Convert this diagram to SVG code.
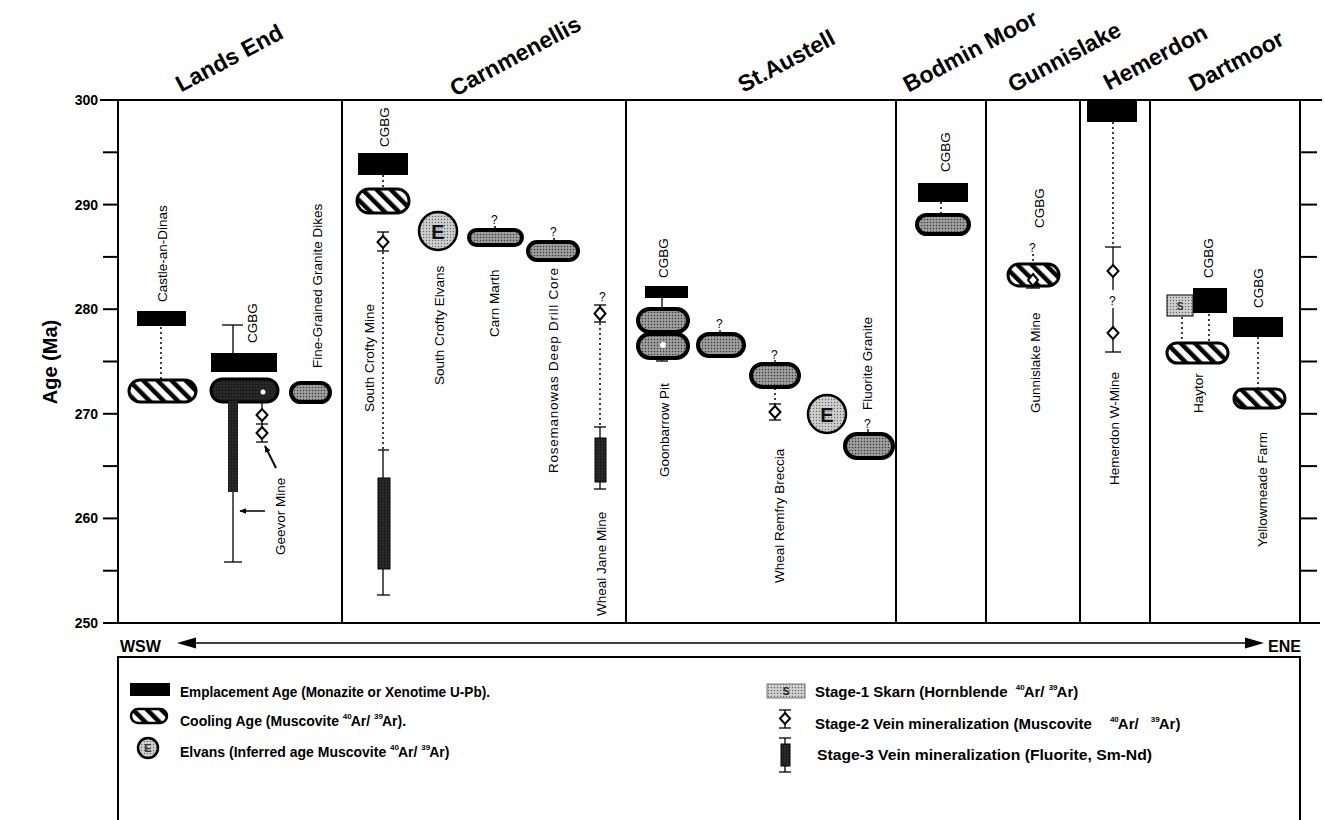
<svg xmlns="http://www.w3.org/2000/svg" width="1324" height="820" viewBox="0 0 1324 820">
<defs>
<style>
text{font-family:"Liberation Sans",Arial,Helvetica,sans-serif;fill:#000}
.ttl{font-size:23px;font-weight:bold}
.lab{font-size:13.5px}
.q{font-size:12px}
.ax{font-size:14px;font-weight:bold}
.lg{font-size:14px;font-weight:bold}
.lg2{font-size:15px;font-weight:bold}
.sup{font-size:8px}
.ln{stroke:#000;stroke-width:2;fill:none}
.thin{stroke:#000;stroke-width:1.3;fill:none}
.dot{stroke:#000;stroke-width:1.5;stroke-dasharray:2 3;fill:none}
.emp{fill:#000}
.hp{fill:url(#hatch);stroke:#000;stroke-width:3}
.dp{fill:url(#stipM);stroke:#000;stroke-width:4}
.kp{fill:url(#stipD);stroke:#000;stroke-width:3}
.ep{fill:url(#stipL);stroke:#000;stroke-width:2.5}
.dia{fill:#fff;stroke:#000;stroke-width:2}
.bar{fill:url(#stipD);stroke:#000;stroke-width:1}
</style>
<pattern id="hatch" patternUnits="userSpaceOnUse" width="10" height="10" patternTransform="rotate(-45)">
<rect width="10" height="10" fill="#fff"/><rect width="4.5" height="10" fill="#000"/>
</pattern>
<pattern id="stipM" patternUnits="userSpaceOnUse" width="3" height="3">
<rect width="3" height="3" fill="#8e8e8e"/><rect width="1" height="1" fill="#3a3a3a"/><rect x="1.5" y="1.5" width="1" height="1" fill="#d0d0d0"/>
</pattern>
<pattern id="stipD" patternUnits="userSpaceOnUse" width="3" height="3">
<rect width="3" height="3" fill="#1e1e1e"/><rect x="1.5" y="1.5" width="1" height="1" fill="#555"/>
</pattern>
<pattern id="stipL" patternUnits="userSpaceOnUse" width="3" height="3">
<rect width="3" height="3" fill="#c4c4c4"/><rect width="1" height="1" fill="#666"/><rect x="1.5" y="1.5" width="1" height="1" fill="#eee"/>
</pattern>
<marker id="ah" viewBox="0 0 10 10" refX="9" refY="5" markerWidth="7" markerHeight="7" orient="auto" markerUnits="userSpaceOnUse">
<path d="M0,1 L10,5 L0,9 Z" fill="#000"/>
</marker>
</defs>
<rect width="1324" height="820" fill="#fff"/>

<g id="axes">
<line class="ln" x1="100" y1="100" x2="1322" y2="100"/>
<line class="ln" x1="103" y1="623" x2="1320" y2="623"/>
<line class="ln" x1="118" y1="100" x2="118" y2="623"/>
<line class="ln" x1="1300" y1="100" x2="1300" y2="623"/>
<g class="ln">
<line x1="103" y1="152.3" x2="118" y2="152.3"/><line x1="103" y1="204.6" x2="118" y2="204.6"/><line x1="103" y1="256.9" x2="118" y2="256.9"/><line x1="103" y1="309.2" x2="118" y2="309.2"/><line x1="103" y1="361.5" x2="118" y2="361.5"/><line x1="103" y1="413.8" x2="118" y2="413.8"/><line x1="103" y1="466.1" x2="118" y2="466.1"/><line x1="103" y1="518.4" x2="118" y2="518.4"/><line x1="103" y1="570.7" x2="118" y2="570.7"/>
<line x1="1300" y1="152.3" x2="1317" y2="152.3"/><line x1="1300" y1="204.6" x2="1317" y2="204.6"/><line x1="1300" y1="256.9" x2="1317" y2="256.9"/><line x1="1300" y1="309.2" x2="1317" y2="309.2"/><line x1="1300" y1="361.5" x2="1317" y2="361.5"/><line x1="1300" y1="413.8" x2="1317" y2="413.8"/><line x1="1300" y1="466.1" x2="1317" y2="466.1"/><line x1="1300" y1="518.4" x2="1317" y2="518.4"/><line x1="1300" y1="570.7" x2="1317" y2="570.7"/>
</g>
<g class="ln">
<line x1="342" y1="100" x2="342" y2="623"/><line x1="626" y1="100" x2="626" y2="623"/><line x1="896" y1="100" x2="896" y2="623"/><line x1="986" y1="100" x2="986" y2="623"/><line x1="1080" y1="100" x2="1080" y2="623"/><line x1="1150" y1="100" x2="1150" y2="623"/>
</g>
<g class="ax" text-anchor="end">
<text x="98" y="105">300</text><text x="98" y="210">290</text><text x="98" y="314">280</text><text x="98" y="419">270</text><text x="98" y="523">260</text><text x="98" y="628">250</text>
</g>
<text transform="translate(57,362) rotate(-90)" text-anchor="middle" style="font-size:20px;font-weight:bold">Age (Ma)</text>
<g class="ttl" text-anchor="middle">
<text transform="translate(233,65) rotate(-28)">Lands End</text>
<text transform="translate(519,63) rotate(-28)">Carnmenellis</text>
<text transform="translate(790,68) rotate(-28)">St.Austell</text>
<text transform="translate(974,58) rotate(-28)">Bodmin Moor</text>
<text transform="translate(1068,64) rotate(-28)">Gunnislake</text>
<text transform="translate(1159,64) rotate(-28)">Hemerdon</text>
<text transform="translate(1240,68) rotate(-28)">Dartmoor</text>
</g>
<line x1="190" y1="643" x2="1250" y2="643" stroke="#000" stroke-width="1.5"/>
<polygon points="177,643 196,637.5 196,648.5" fill="#000"/>
<polygon points="1264,643 1245,637.5 1245,648.5" fill="#000"/>
<text x="120" y="652" style="font-size:16px;font-weight:bold">WSW</text>
<text x="1268" y="652" style="font-size:16px;font-weight:bold">ENE</text>
</g>

<g id="connectors">
<line class="dot" x1="161" y1="327" x2="161" y2="379"/>
<line class="thin" x1="233" y1="325" x2="233" y2="353"/><line class="thin" x1="222" y1="325" x2="243" y2="325"/>
<line class="thin" x1="233" y1="492" x2="233" y2="562"/><line class="thin" x1="224" y1="562" x2="242" y2="562"/>
<line class="thin" x1="262" y1="402" x2="262" y2="442"/>
<line class="thin" x1="256" y1="424" x2="268" y2="424"/><line class="thin" x1="256" y1="442" x2="268" y2="442"/>
<line x1="265" y1="511" x2="240" y2="511" stroke="#000" stroke-width="1.5" marker-end="url(#ah)"/>
<line x1="276" y1="468" x2="265" y2="446" stroke="#000" stroke-width="2" marker-end="url(#ah)"/>
<line class="dot" x1="383" y1="175" x2="383" y2="188"/>
<line class="thin" x1="383" y1="232" x2="383" y2="251"/><line class="thin" x1="377" y1="232" x2="389" y2="232"/><line class="thin" x1="377" y1="251" x2="389" y2="251"/>
<line class="dot" x1="383" y1="252" x2="383" y2="450"/>
<line class="thin" x1="383" y1="450" x2="383" y2="595"/><line class="thin" x1="378" y1="450" x2="389" y2="450"/><line class="thin" x1="377" y1="595" x2="390" y2="595"/>
<line class="dot" x1="495" y1="226" x2="495" y2="230"/>
<line class="dot" x1="554" y1="238" x2="554" y2="242"/>
<line class="thin" x1="600" y1="305" x2="600" y2="322"/><line class="thin" x1="594" y1="305" x2="606" y2="305"/><line class="thin" x1="594" y1="322" x2="606" y2="322"/>
<line class="dot" x1="600" y1="323" x2="600" y2="427"/>
<line class="thin" x1="600" y1="427" x2="600" y2="489"/><line class="thin" x1="594" y1="427" x2="606" y2="427"/><line class="thin" x1="594" y1="489" x2="606" y2="489"/>
<line class="thin" x1="662" y1="298" x2="662" y2="308"/>
<line class="thin" x1="662" y1="358" x2="662" y2="361"/><line class="thin" x1="656" y1="361" x2="668" y2="361"/>
<line class="thin" x1="720" y1="330" x2="720" y2="333"/>
<line class="thin" x1="775" y1="360" x2="775" y2="363"/>
<line class="dot" x1="775" y1="388" x2="775" y2="404"/>
<line class="thin" x1="775" y1="404" x2="775" y2="420"/><line class="thin" x1="769" y1="404" x2="781" y2="404"/><line class="thin" x1="769" y1="420" x2="781" y2="420"/>
<line class="thin" x1="868" y1="429" x2="868" y2="433"/>
<line class="dot" x1="941" y1="202" x2="941" y2="215"/>
<line class="dot" x1="1033" y1="254" x2="1033" y2="263"/>
<line class="thin" x1="1033" y1="278" x2="1033" y2="288"/><line class="thin" x1="1026" y1="288" x2="1040" y2="288"/>
<line class="dot" x1="1113" y1="122" x2="1113" y2="247"/>
<line class="thin" x1="1113" y1="247" x2="1113" y2="290"/><line class="thin" x1="1105" y1="247" x2="1121" y2="247"/>
<line class="thin" x1="1113" y1="308" x2="1113" y2="352"/><line class="thin" x1="1105" y1="352" x2="1121" y2="352"/>
<line class="dot" x1="1182" y1="317" x2="1182" y2="342"/>
<line class="dot" x1="1209" y1="314" x2="1209" y2="342"/>
<line class="dot" x1="1258" y1="337" x2="1258" y2="388"/>
</g>

<g id="lands-end">
<rect class="emp" x="137" y="311" width="49" height="15"/>
<rect class="hp" x="129" y="380" width="67" height="22" rx="11"/>
<text class="lab" transform="translate(167,302) rotate(-90)">Castle-an-Dinas</text>
<rect class="emp" x="211" y="353" width="66" height="19"/>
<rect class="kp" x="211" y="379" width="67" height="23" rx="11.5"/>
<rect x="228" y="401" width="10" height="91" fill="url(#stipD)"/>
<circle cx="263" cy="392" r="2.5" fill="#fff"/>
<polygon class="dia" points="262,409 267.5,415 262,421 256.5,415"/>
<polygon class="dia" points="262,427 267.5,433 262,439 256.5,433"/>
<text class="lab" transform="translate(257,343) rotate(-90)">CGBG</text>
<text class="lab" transform="translate(285,555) rotate(-90)">Geevor Mine</text>
<rect class="dp" x="291" y="383" width="39" height="19" rx="9.5"/>
<text class="lab" transform="translate(322,368) rotate(-90)">Fine-Grained Granite Dikes</text>
</g>

<g id="carnmenellis">
<rect class="emp" x="358" y="153" width="50" height="22"/>
<text class="lab" transform="translate(389,147) rotate(-90)">CGBG</text>
<rect class="hp" x="357" y="189" width="52" height="24" rx="12"/>
<polygon class="dia" points="383,236 388.5,242 383,248 377.5,242"/>
<rect class="bar" x="378" y="478" width="12" height="91"/>
<text class="lab" transform="translate(374,412) rotate(-90)">South Crofty Mine</text>
<circle class="ep" cx="438" cy="231" r="19"/>
<text x="438" y="238.5" text-anchor="middle" style="font-size:20px;font-weight:bold;fill:#111">E</text>
<text class="lab" transform="translate(444,385) rotate(-90)">South Crofty Elvans</text>
<text class="q" x="491" y="224">?</text>
<rect class="dp" x="469" y="230" width="53" height="15" rx="7.5"/>
<text class="lab" transform="translate(499,337) rotate(-90)">Carn Marth</text>
<text class="q" x="550" y="236">?</text>
<rect class="dp" x="528" y="242" width="50" height="18" rx="9"/>
<text class="lab" transform="translate(558,473) rotate(-90)" textLength="205">Rosemanowas  Deep Drill Core</text>
<text class="q" x="599" y="301">?</text>
<polygon class="dia" points="600,307 605.5,313.5 600,320 594.5,313.5"/>
<rect class="bar" x="595" y="438" width="11" height="44"/>
<text class="lab" transform="translate(606,616) rotate(-90)">Wheal Jane Mine</text>
</g>

<g id="st-austell">
<rect class="emp" x="645" y="286" width="43" height="12"/>
<text class="lab" transform="translate(668,278) rotate(-90)">CGBG</text>
<rect class="dp" x="638" y="309" width="50" height="23" rx="11.5"/>
<rect class="dp" x="638" y="334" width="50" height="24" rx="12"/>
<circle cx="663" cy="345" r="3" fill="#fff"/>
<text class="lab" transform="translate(669,477) rotate(-90)">Goonbarrow Pit</text>
<text class="q" x="716" y="328">?</text>
<rect class="dp" x="698" y="334" width="46" height="22" rx="11"/>
<text class="q" x="771" y="359">?</text>
<rect class="dp" x="751" y="364" width="48" height="23" rx="11.5"/>
<polygon class="dia" points="775,406 780.5,412 775,418 769.5,412"/>
<text class="lab" transform="translate(784,583) rotate(-90)">Wheal Remfry Breccia</text>
<circle class="ep" cx="827" cy="414" r="19"/>
<text x="827" y="421.5" text-anchor="middle" style="font-size:20px;font-weight:bold;fill:#111">E</text>
<text class="q" x="864" y="428">?</text>
<rect class="dp" x="845" y="434" width="48" height="24" rx="12"/>
<text class="lab" transform="translate(872,410) rotate(-90)">Fluorite Granite</text>
</g>

<g id="bodmin-moor">
<rect class="emp" x="918" y="183" width="50" height="19"/>
<text class="lab" transform="translate(950,172) rotate(-90)">CGBG</text>
<rect class="dp" x="917" y="215" width="52" height="19" rx="9.5"/>
</g>

<g id="gunnislake">
<text class="lab" transform="translate(1044,228) rotate(-90)">CGBG</text>
<text class="q" x="1029" y="252">?</text>
<rect class="hp" x="1008" y="264" width="51" height="22" rx="11"/>
<polygon class="dia" points="1033,274 1038,280 1033,286 1028,280"/>
<text class="lab" transform="translate(1040,413) rotate(-90)">Gunnislake Mine</text>
</g>

<g id="hemerdon">
<rect class="emp" x="1087" y="100" width="50" height="22"/>
<polygon class="dia" points="1113,265 1118.5,271 1113,277 1107.5,271"/>
<text class="q" x="1109" y="305">?</text>
<polygon class="dia" points="1113,327 1118.5,333 1113,339 1107.5,333"/>
<text class="lab" transform="translate(1119,485) rotate(-90)">Hemerdon W-Mine</text>
</g>

<g id="dartmoor">
<rect x="1167" y="295" width="26" height="21" fill="url(#stipL)" stroke="#000" stroke-width="1"/>
<text x="1180" y="310" text-anchor="middle" style="font-size:10px;font-weight:bold;fill:#333">S</text>
<rect class="emp" x="1193" y="288" width="34" height="25"/>
<text class="lab" transform="translate(1213,278) rotate(-90)">CGBG</text>
<rect class="hp" x="1167" y="343" width="61" height="20" rx="10"/>
<text class="lab" transform="translate(1203,413) rotate(-90)">Haytor</text>
<rect class="emp" x="1233" y="317" width="50" height="20"/>
<text class="lab" transform="translate(1263,308) rotate(-90)">CGBG</text>
<rect class="hp" x="1234" y="389" width="51" height="19" rx="9.5"/>
<text class="lab" transform="translate(1267,547) rotate(-90)">Yellowmeade Farm</text>
</g>

<g id="legend">
<polyline class="ln" points="118,820 118,657 1300,657 1300,820"/>
<rect class="emp" x="130" y="683" width="40" height="13"/>
<text class="lg" x="180" y="697" textLength="310" lengthAdjust="spacingAndGlyphs">Emplacement Age (Monazite or Xenotime U-Pb).</text>
<rect class="hp" x="131" y="709" width="36" height="14" rx="7" style="stroke-width:2.5"/>
<text class="lg" x="180" y="726">Cooling Age (Muscovite <tspan class="sup" dy="-7">40</tspan><tspan dy="7" dx="-1">Ar/ </tspan><tspan class="sup" dy="-7">39</tspan><tspan dy="7" dx="-1">Ar).</tspan></text>
<circle class="ep" cx="148" cy="748" r="10"/>
<text x="148" y="752" text-anchor="middle" style="font-size:11px;font-weight:bold;fill:#333">E</text>
<text class="lg" x="180" y="757">Elvans (Inferred age Muscovite <tspan class="sup" dy="-7">40</tspan><tspan dy="7" dx="-1">Ar/ </tspan><tspan class="sup" dy="-7">39</tspan><tspan dy="7" dx="-1">Ar)</tspan></text>
<rect x="767" y="684" width="38" height="14" fill="url(#stipL)" stroke="#777" stroke-width="1"/>
<text x="786" y="695" text-anchor="middle" style="font-size:10px;font-weight:bold;fill:#222">S</text>
<text class="lg2" x="815" y="697">Stage-1 Skarn (Hornblende <tspan class="sup" dx="4" dy="-7">40</tspan><tspan dy="7" dx="-1">Ar/ </tspan><tspan class="sup" dy="-7">39</tspan><tspan dy="7" dx="-1">Ar)</tspan></text>
<line class="thin" x1="785" y1="710" x2="785" y2="728"/><line class="thin" x1="779" y1="710" x2="791" y2="710"/><line class="thin" x1="779" y1="728" x2="791" y2="728"/>
<polygon class="dia" points="785,713 790,718.5 785,724 780,718.5"/>
<text class="lg2" x="815" y="729">Stage-2 Vein mineralization (Muscovite <tspan class="sup" dx="14" dy="-7">40</tspan><tspan dy="7" dx="-1">Ar/ </tspan><tspan class="sup" dx="8" dy="-7">39</tspan><tspan dy="7" dx="-1">Ar)</tspan></text>
<line class="thin" x1="785" y1="738" x2="785" y2="772"/><line class="thin" x1="779" y1="738" x2="791" y2="738"/><line class="thin" x1="779" y1="772" x2="791" y2="772"/>
<rect class="bar" x="781" y="744" width="9" height="22"/>
<text class="lg2" x="817" y="760" textLength="335" lengthAdjust="spacingAndGlyphs">Stage-3 Vein mineralization (Fluorite, Sm-Nd)</text>
</g>
</svg>
